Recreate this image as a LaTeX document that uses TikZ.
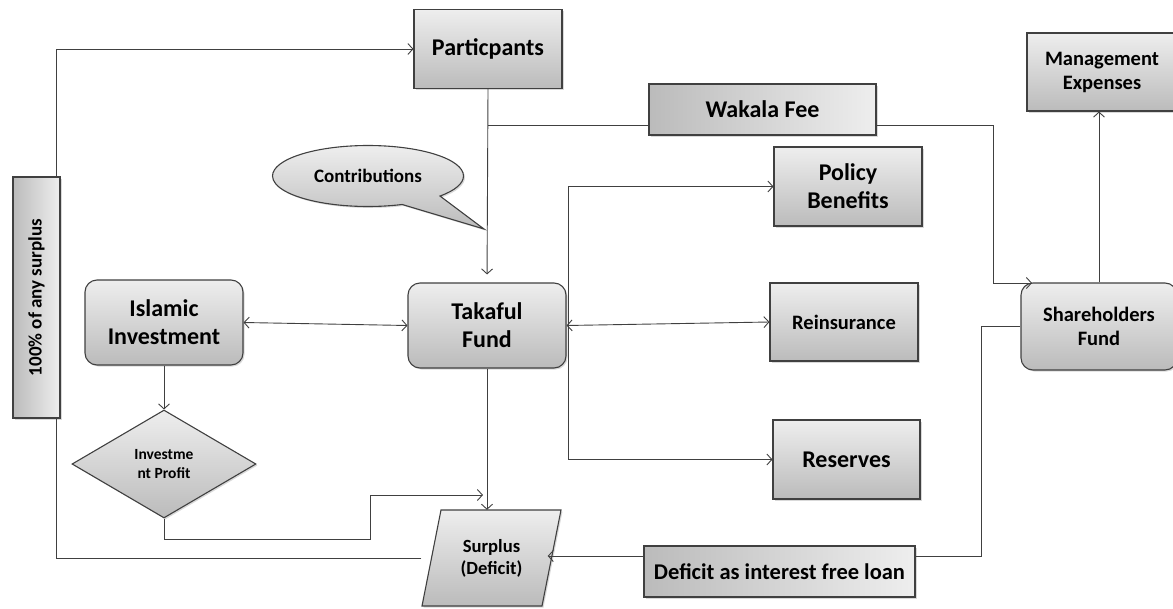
\documentclass[tikz,border=0pt]{standalone}
\usepackage{fontspec}
\setmainfont{Carlito}
\usetikzlibrary{arrows.meta,positioning,calc,shapes.geometric,shapes.callouts,shadows}
\definecolor{edgc}{HTML}{404040}
\definecolor{shlt}{HTML}{EEEEEE}
\definecolor{shdk}{HTML}{BBBBBB}
\tikzset{
  bx/.style     = {draw=edgc, line width=1.1pt, top color=shlt, bottom color=shdk,
                   inner sep=1pt, align=center, font=\bfseries\fontsize{24}{28}\selectfont,
                   drop shadow={shadow xshift=1.5pt, shadow yshift=-1.5pt, opacity=0.3}},
  bxr/.style    = {bx, rounded corners=12pt},
  bxh/.style    = {bx, left color=shdk, right color=shlt},
  fmid/.style   = {font=\bfseries\fontsize{20.5}{24}\selectfont},
  fsml/.style   = {font=\bfseries\fontsize{15.5}{18.5}\selectfont},
  edg/.style    = {draw=edgc, line width=0.9pt},
  edga/.style   = {edg, -{Straight Barb[length=5pt,width=11pt]}},
  edgaa/.style  = {edg, {Straight Barb[length=5pt,width=11pt]}-{Straight Barb[length=5pt,width=11pt]}},
}
\begin{document}
\begin{tikzpicture}[x=1pt,y=-1pt]
  \useasboundingbox (0,0) rectangle (1173,608);
  \node[bx, minimum width=148pt, minimum height=79pt] (part) at (488,49) {Particpants};
  \node[bxh, minimum width=227pt, minimum height=51pt] (wak) at (762.5,109.5) {Wakala Fee};
  \node[bx, fmid, minimum width=150pt, minimum height=78pt] (mgmt) at (1102,72) {Management\\Expenses};
  \node[bx, minimum width=148pt, minimum height=79pt] (pol) at (848,186.5) {Policy\\Benefits};
  \node[ellipse callout, draw=edgc, line width=1.1pt, top color=shlt, bottom color=shdk,
        minimum width=191pt, minimum height=61pt, inner sep=0pt,
        callout absolute pointer={(484,229)}, callout pointer arc=28,
        font=\bfseries\fontsize{19}{22}\selectfont,
        drop shadow={shadow xshift=1.5pt, shadow yshift=-1.5pt, opacity=0.3}] (ctb) at (368,176) {Contributions};
  \node[bx, rotate=90, left color=shdk, right color=shlt, font=\bfseries\fontsize{19}{22}\selectfont,
        minimum width=241pt, minimum height=47pt] (pct) at (36.5,297.5) {100\% of any surplus};
  \node[bxr, minimum width=158pt, minimum height=85pt] (isl) at (164,322.5) {Islamic\\Investment};
  \node[bxr, minimum width=158pt, minimum height=85pt] (tak) at (487,325.5) {Takaful\\Fund};
  \node[bx, fmid, minimum width=148pt, minimum height=78pt] (rei) at (844,322) {Reinsurance};
  \node[bxr, fmid, minimum width=156pt, minimum height=87pt] (sh) at (1099,326.5) {Shareholders\\Fund};
  \node[bx, fsml, diamond, inner sep=0pt, minimum width=184pt, minimum height=108pt] (dia) at (164,464) {Investme\\nt Profit};
  \node[bx, minimum width=147pt, minimum height=79pt] (res) at (846.5,459.5) {Reserves};
  \shade[draw=edgc, line width=1.1pt, top color=shlt, bottom color=shdk,
         drop shadow={shadow xshift=1.5pt, shadow yshift=-1.5pt, opacity=0.3}]
    (441,510) -- (561,510) -- (542,606) -- (422,606) -- cycle;
  \node[align=center, inner sep=0pt, font=\bfseries\fontsize{18.6}{22}\selectfont,
        minimum width=120pt, minimum height=96pt] (spd) at (491.5,558) {Surplus\\(Deficit)};
  \node[bxh, font=\bfseries\fontsize{22.5}{26}\selectfont, minimum width=271pt, minimum height=51pt] (def) at (779.5,571.5) {Deficit as interest free loan};

  \coordinate (lp) at (56,0);
  \coordinate (jn) at (488,125);
  \coordinate (wr) at (993,283);
  \coordinate (shin) at (1032,283);
  \coordinate (pb) at (370,539);
  \coordinate (pin) at (483,495);
  \coordinate (brk) at (568,0);
  \coordinate (dl) at (0,556);
  \coordinate (dr) at (981,0);

  \draw[edg] ($(spd.west)+(-10,0)$) -| (lp |- pct.west);
  \draw[edga] (lp |- pct.east) |- (part.west);
  \draw[edga, shorten >=8pt] (part.south) -- (tak.north);
  \draw[edg] (jn) -- (jn -| wak.west);
  \draw[edga] (jn -| wak.east) -| (wr) -- (shin);
  \draw[edga] (sh.north) -- (sh.north |- mgmt.south);
  \draw[edgaa] (isl.east) -- (tak.west);
  \draw[edga] (isl.south) -- (dia.north);
  \draw[edga] (dia.south) |- (pb) |- (pin);
  \draw[edga] (tak.south) -- (tak.south |- spd.north);
  \draw[edga] (brk |- pol.west) -- (pol.west);
  \draw[edga] (brk |- pol.west) |- (res.west);
  \draw[edgaa] (tak.east) -- (rei.west);
  \draw[edga] (def.west |- dl) -- ($(spd.east |- dl)+(-4,0)$);
  \draw[edg] (def.east |- dl) -| (dr |- sh.west) -- (sh.west);
\end{tikzpicture}
\end{document}
